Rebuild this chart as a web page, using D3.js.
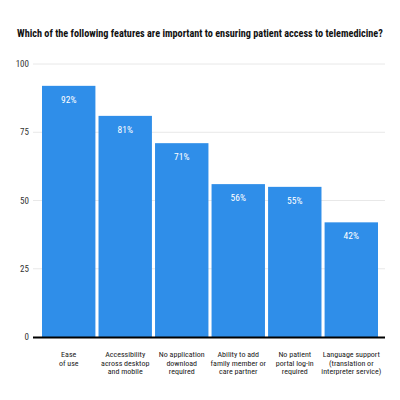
<!DOCTYPE html>
<html>
<head>
<meta charset="utf-8">
<script src="https://cdn.jsdelivr.net/npm/d3@7"></script>
<style>
  body { margin: 0; background: #fff; }
  svg { display: block; }
</style>
</head>
<body>
<div id="chart"></div>
<script>
// data
const title = 'Which of the following features are important to ensuring patient access to telemedicine?';
const categories = [
  ['Ease', 'of use'],
  ['Accessibility', 'across desktop', 'and mobile'],
  ['No application', 'download', 'required'],
  ['Ability to add', 'family member or', 'care partner'],
  ['No patient', 'portal log-in', 'required'],
  ['Language support', '(translation or', 'interpreter service)']
];
const values = [92, 81, 71, 56, 55, 42];
const yTicks = [0, 25, 50, 75, 100];

const W = 400, H = 400;
const font = "'Liberation Sans Narrow', 'Arial Narrow', 'Roboto Condensed', 'DejaVu Sans Condensed', sans-serif";

const svg = d3.select('#chart').append('svg')
  .attr('width', W)
  .attr('height', H);

//scales
const x = d3.scaleBand()
  .domain(d3.range(values.length))
  .range([42, 378])
  .paddingInner(0.055)
  .paddingOuter(0);

const y = d3.scaleLinear()
  .domain([0, 100])
  .range([337, 64]);

//title - size it so it spans about the same width as the reference
const titleText = svg.append('text')
  .attr('x', 17)
  .attr('y', 37)
  .style('font-family', font)
  .style('font-size', '12px')
  .style('font-weight', 'bold')
  .style('fill', '#111')
  .text(title);
const tw = titleText.node().getComputedTextLength();
if (tw > 0) titleText.style('font-size', Math.min(14, 12 * 366 / tw) + 'px');

//grid
svg.selectAll('.grid')
  .data(yTicks.filter(d => d > 0))
  .enter()
  .append('line')
  .attr('x1', 33)
  .attr('x2', 385)
  .attr('y1', d => y(d))
  .attr('y2', d => y(d))
  .style('stroke', '#e8e8e8')
  .style('stroke-width', 1);

svg.selectAll('.ytick')
  .data(yTicks)
  .enter()
  .append('text')
  .attr('x', 29)
  .attr('y', d => y(d))
  .attr('dy', '0.35em')
  .attr('text-anchor', 'end')
  .style('font-family', font)
  .style('font-size', '9px')
  .style('fill', '#333')
  .text(d => d);

//bars
svg.selectAll('.bar')
  .data(values)
  .enter()
  .append('rect')
  .attr('x', (d, i) => x(i))
  .attr('y', d => y(d))
  .attr('width', x.bandwidth())
  .attr('height', d => y(0) - y(d))
  .style('fill', '#2f8ee9');

svg.selectAll('.val')
  .data(values)
  .enter()
  .append('text')
  .attr('x', (d, i) => x(i) + x.bandwidth() / 2)
  .attr('y', d => y(d) + 17)
  .attr('text-anchor', 'middle')
  .style('font-family', font)
  .style('font-size', '9.5px')
  .style('fill', '#fff')
  .text(d => d + '%');

//baseline
svg.append('line')
  .attr('x1', 33)
  .attr('x2', 385)
  .attr('y1', y(0) + 0.5)
  .attr('y2', y(0) + 0.5)
  .style('stroke', '#000')
  .style('stroke-width', 2);

//category labels
const cat = svg.selectAll('.cat')
  .data(categories)
  .enter()
  .append('text')
  .attr('text-anchor', 'middle')
  .style('font-family', font)
  .style('font-size', '8px')
  .style('fill', '#222');

cat.selectAll('tspan')
  .data((d, i) => d.map(s => ({s, i})))
  .enter()
  .append('tspan')
  .attr('x', d => x(d.i) + x.bandwidth() / 2)
  .attr('y', (d, j) => 357 + j * 8.5)
  .text(d => d.s);
</script>
</body>
</html>
